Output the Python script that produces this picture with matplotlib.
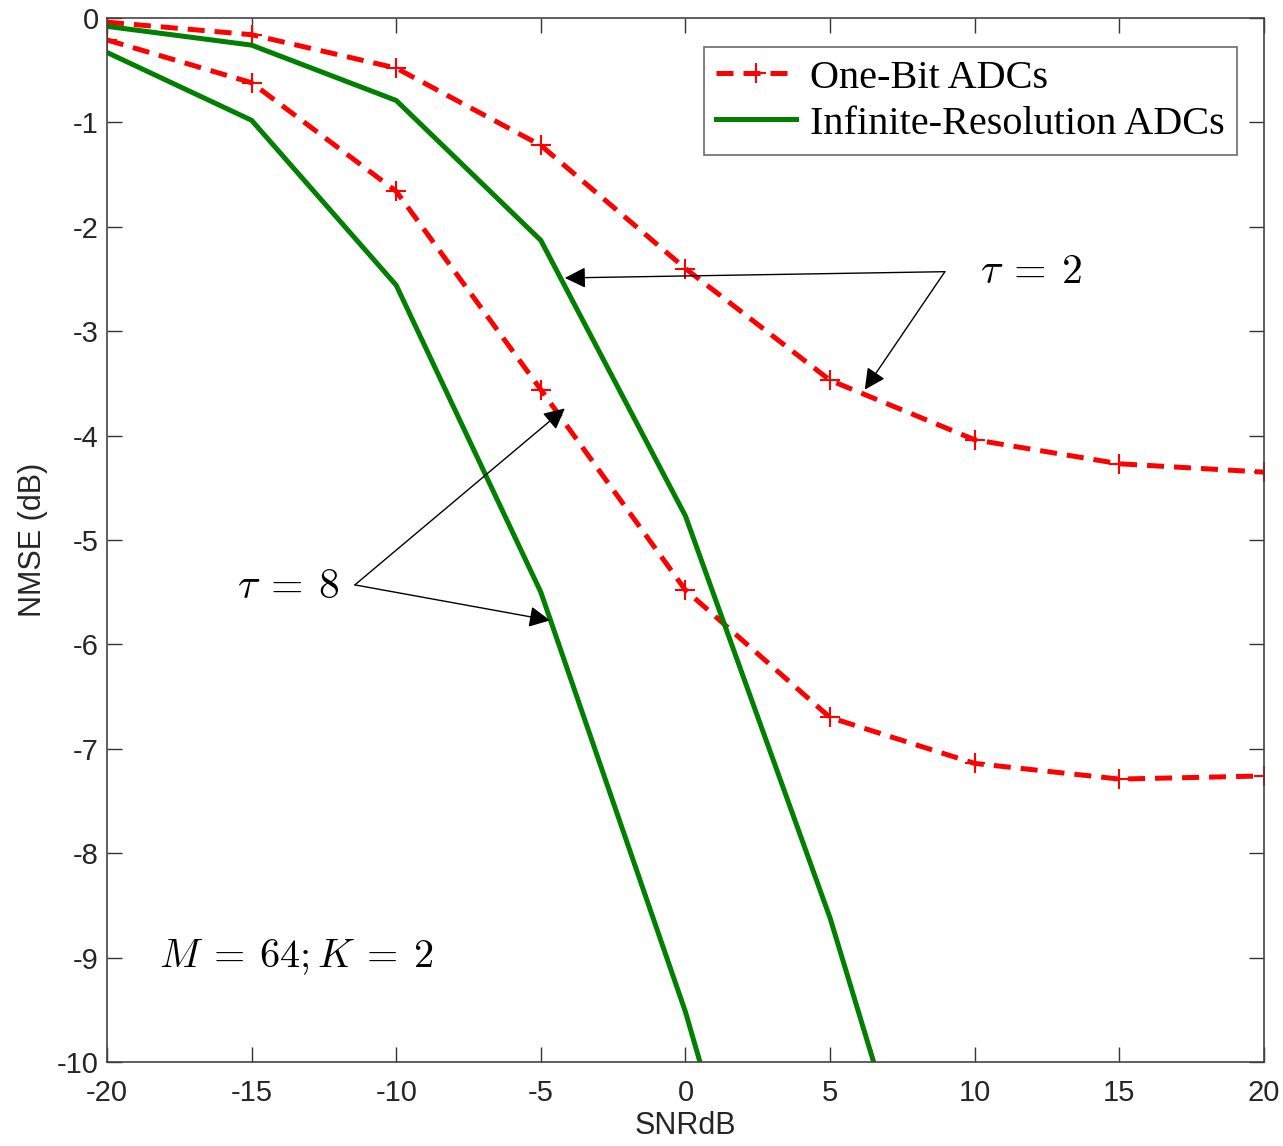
import numpy as np
import matplotlib
matplotlib.use("Agg")
import matplotlib.pyplot as plt

plt.rcParams['mathtext.fontset'] = 'cm'
plt.rcParams['font.family'] = ['Liberation Sans', 'DejaVu Sans']

# data
snr = [-20, -15, -10, -5, 0, 5, 10, 15, 20]
onebit_tau2 = [-0.04, -0.16, -0.48, -1.22, -2.40, -3.47, -4.04, -4.27, -4.35]
onebit_tau8 = [-0.21, -0.62, -1.66, -3.56, -5.48, -6.70, -7.14, -7.29, -7.26]
inf_tau2 = [-0.08, -0.26, -0.79, -2.13, -4.77, -8.62, -13.2, -17.8, -22.4]
inf_tau8 = [-0.33, -0.98, -2.56, -5.50, -9.52, -14.3, -19.1, -23.9, -28.7]

xticks = [-20, -15, -10, -5, 0, 5, 10, 15, 20]
yticks = [0, -1, -2, -3, -4, -5, -6, -7, -8, -9, -10]

fig = plt.figure(figsize=(12.83, 11.46), dpi=100)
ax = fig.add_axes([0.0834, 0.0733, 0.9017, 0.911])

red = '#ff0000'
green = '#007f00'
dash = (0, (3.4, 2.0))

l1, = ax.plot(snr, onebit_tau2, color=red, lw=3.6, ls=dash, marker='+',
              ms=14, mew=1.5, label='One-Bit ADCs')
ax.plot(snr, onebit_tau8, color=red, lw=3.6, ls=dash, marker='+', ms=14, mew=1.5)
l2, = ax.plot(snr, inf_tau2, color=green, lw=3.6, label='Infinite-Resolution ADCs')
ax.plot(snr, inf_tau8, color=green, lw=3.6)

ax.set_xlim(-20, 20)
ax.set_ylim(-10, 0)
ax.set_xticks(xticks)
ax.set_yticks(yticks)
ax.set_xticklabels([str(t) for t in xticks])
ax.set_yticklabels([str(t) for t in yticks])
ax.tick_params(direction='in', length=11, width=1, labelsize=21, top=True, right=True,
               color='#333333', labelcolor='#262626')
ax.tick_params(axis='x', pad=12)
ax.tick_params(axis='y', pad=6)
for s in ax.spines.values():
    s.set_color('#444444')
    s.set_linewidth(1.2)

ax.set_xlabel('SNRdB', fontsize=22, color='#262626', labelpad=3)
ax.set_ylabel('NMSE (dB)', fontsize=22, color='#262626', labelpad=6)

leg = ax.legend(handles=[l1, l2], loc='upper right', bbox_to_anchor=(0.977, 0.972),
                borderaxespad=0, prop={'family': 'Liberation Serif', 'size': 29},
                frameon=True, fancybox=False, edgecolor='#444444', handlelength=2.0,
                handletextpad=0.35, borderpad=0.3, labelspacing=0.22)
leg.get_frame().set_linewidth(1.2)

arrow = dict(arrowstyle='-|>', color='black', lw=1.0, mutation_scale=32,
             shrinkA=0, shrinkB=0)
ax.text(10.2, -2.43, r'$\tau\:=\:2$', fontsize=30, va='center', ha='left')
ax.annotate('', xy=(-4.17, -2.49), xytext=(8.97, -2.43), arrowprops=arrow)
ax.annotate('', xy=(6.2, -3.56), xytext=(8.97, -2.43), arrowprops=arrow)

ax.text(-15.5, -5.45, r'$\tau\:=\:8$', fontsize=30, va='center', ha='left')
ax.annotate('', xy=(-4.17, -3.74), xytext=(-11.43, -5.43), arrowprops=arrow)
ax.annotate('', xy=(-4.68, -5.77), xytext=(-11.43, -5.43), arrowprops=arrow)

ax.text(-18.2, -9.0, r'$M\:=\:64;K\:=\:2$', fontsize=29, va='center', ha='left')

fig.savefig('out.png', dpi=100)
